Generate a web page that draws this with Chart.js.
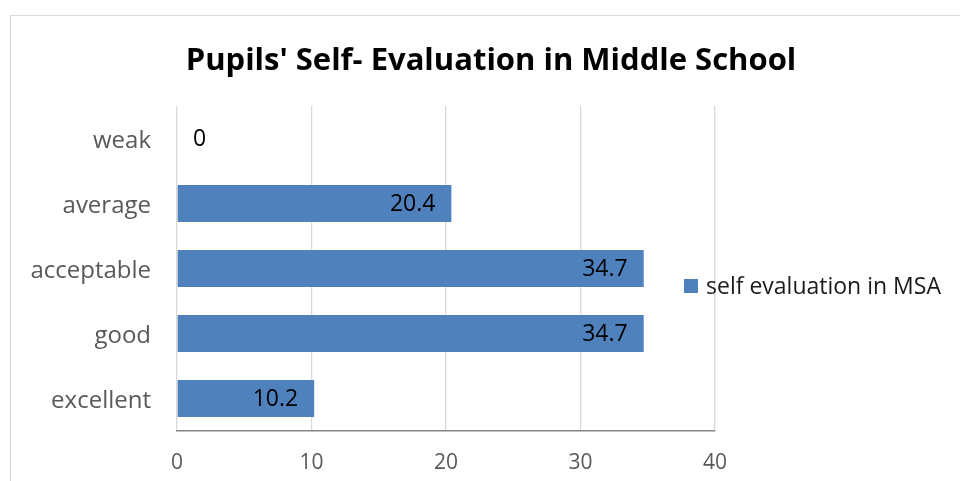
<!DOCTYPE html>
<html>
<head>
<meta charset="utf-8">
<script src="https://cdn.jsdelivr.net/npm/chart.js@4.4.1/dist/chart.umd.min.js"></script>
<style>
  html, body { margin: 0; padding: 0; background: #fff; }
  #wrap { position: relative; width: 960px; height: 481px; }
  #frame { position: absolute; left: 10px; top: 15px; width: 980px; height: 500px; border: 1px solid #d9d9d9; box-sizing: border-box; }
  canvas { position: absolute; left: 0; top: 0; }
</style>
</head>
<body>
<div id="wrap">
  <div id="frame"></div>
  <canvas id="chart" width="960" height="481"></canvas>
</div>
<script>
// Self-evaluation shares (%), top to bottom
const categories = ["weak", "average", "acceptable", "good", "excellent"]
const selfEvaluation = [0, 20.4, 34.7, 34.7, 10.2]
const seriesName = "self evaluation in MSA"
const chartTitle = "Pupils' Self- Evaluation in Middle School"
const xTicks = [0, 10, 20, 30, 40]

const FONT = "'Open Sans', Lato, sans-serif"
const BLUE = "#4f81bd"

// Title, bar value labels and the legend are painted after the chart
const overlay = {
  id: "overlay",
  afterDatasetsDraw(chart) {
    const ctx = chart.ctx
    ctx.save()

    // title
    ctx.fillStyle = "#000"
    ctx.font = "bold 31px " + FONT
    ctx.textAlign = "center"
    ctx.textBaseline = "middle"
    ctx.fillText(chartTitle, 491, 61)

    // value labels, inside end of each bar
    ctx.font = "23px " + FONT
    ctx.fillStyle = "#000"
    const meta = chart.getDatasetMeta(0)
    meta.data.forEach((bar, i) => {
      const v = chart.data.datasets[0].data[i]
      const txt = String(v)
      if (bar.x - bar.base < 40) {
        ctx.textAlign = "left"
        ctx.fillText(txt, bar.base + 16, bar.y + 1)
      } else {
        ctx.textAlign = "right"
        ctx.fillText(txt, bar.x - 16, bar.y + 1)
      }
    })

    // legend
    const ds = chart.data.datasets[0]
    ctx.fillStyle = ds.backgroundColor
    ctx.fillRect(684, 279, 14, 14)
    ctx.fillStyle = "#1a1a1a"
    ctx.font = "23px " + FONT
    ctx.textAlign = "left"
    ctx.fillText(ds.label, 706, 287)

    ctx.restore()
  }
}

new Chart(document.getElementById("chart"), {
  type: "bar",
  data: {
    labels: categories,
    datasets: [{
      label: seriesName,
      data: selfEvaluation,
      backgroundColor: BLUE,
      borderWidth: 0,
      categoryPercentage: 1,
      barPercentage: 0.57
    }]
  },
  options: {
    indexAxis: "y",
    responsive: false,
    animation: false,
    layout: { padding: { left: 0, top: 106, right: 245, bottom: 0 } },
    plugins: {
      legend: { display: false },
      title: { display: false },
      tooltip: { enabled: false }
    },
    scales: {
      x: {
        min: 0,
        max: 40,
        afterBuildTicks: (scale) => { scale.ticks = xTicks.map(v => ({ value: v })) },
        afterFit: (scale) => { scale.height = 50 },
        grid: { color: "#d9d9d9", lineWidth: 1.3, drawTicks: false },
        border: { color: "#868686", width: 1.5 },
        ticks: { color: "#595959", font: { family: FONT, size: 21 }, padding: 19 }
      },
      y: {
        afterFit: (scale) => { scale.width = 177 },
        grid: { display: false, drawTicks: false },
        border: { display: false },
        ticks: { color: "#595959", font: { family: FONT, size: 24 }, padding: 26, labelOffset: 3 }
      }
    }
  },
  plugins: [overlay]
})
</script>
</body>
</html>
